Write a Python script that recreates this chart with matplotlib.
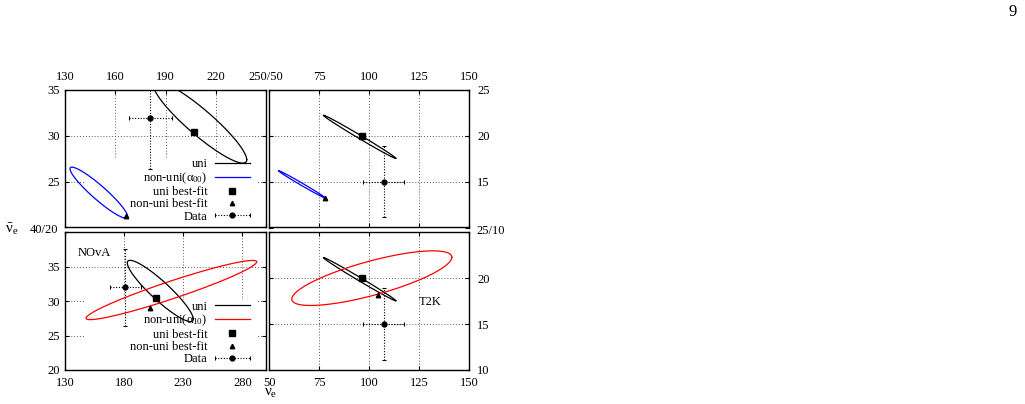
import numpy as np
import matplotlib
matplotlib.use('Agg')
import matplotlib.pyplot as plt
from matplotlib.lines import Line2D
from matplotlib.legend_handler import HandlerBase
from matplotlib.patches import Rectangle

plt.rcParams['font.family'] = ['Liberation Serif', 'DejaVu Serif']
plt.rcParams['mathtext.fontset'] = 'custom'
plt.rcParams['mathtext.rm'] = 'Liberation Serif'
plt.rcParams['mathtext.it'] = 'Liberation Serif'
plt.rcParams['font.size'] = 9

# ---------------- data (x = nu_e events, y = anti-nu_e events) ----------------
nova_data = [181.0, 32.0]
nova_data_err = [13.0, 5.6]
t2k_data = [107.3, 15.0]
t2k_data_err = [10.3, 3.9]

nova_uni_bf = [206.8, 30.4]
nova_a00_bf = [166.6, 21.3]
nova_a10_bf = [201.7, 29.05]
t2k_uni_bf = [96.6, 20.0]
t2k_a00_bf = [78.0, 13.25]
t2k_a10_bf = [104.3, 18.2]

# contours: left end (x, y), right end (x, y), half thickness in y
nova_uni_ell = [(182.7, 35.55), (238.5, 27.4), 1.8]
nova_a00_ell = [(133.0, 26.4), (167.4, 21.2), 1.0]
nova_a10_ell = [(147.8, 27.53), (292.1, 35.7), 1.34]
t2k_uni_ell = [(77.2, 22.24), (113.4, 17.55), 0.22]
t2k_a00_ell = [(54.7, 16.2), (78.0, 13.24), 0.15]
t2k_a10_ell = [(61.4, 17.73), (141.4, 22.28), 1.92]

legend_labels_top = ['uni', r'non-uni($\alpha_{00}$)', 'uni best-fit', 'non-uni best-fit', 'Data']
legend_labels_bot = ['uni', r'non-uni($\alpha_{10}$)', 'uni best-fit', 'non-uni best-fit', 'Data']

tl_xticks = [130, 160, 190, 220, 250]
tl_xlabels = ['130', '160', '190', '220', '']
left_top_yticks = [20, 25, 30, 35]
left_top_ylabels = ['', '25', '30', '35']
bl_xticks = [130, 180, 230, 280]
bl_yticks = [20, 25, 30, 35, 40]
bl_ylabels = ['20', '25', '30', '35', '']
r_xticks = [50, 75, 100, 125, 150]
tr_xlabels = ['', '75', '100', '125', '150']
br_xlabels = ['50', '75', '100', '125', '150']
r_yticks = [10, 15, 20, 25]
tr_ylabels = ['', '15', '20', '25']
br_ylabels = ['10', '15', '20', '']


def ellipse_xy(ell, n=400):
    (x1, y1), (x2, y2), h = ell
    cx, cy = (x1 + x2) / 2, (y1 + y2) / 2
    ux, uy = (x2 - x1) / 2, (y2 - y1) / 2
    t = np.linspace(0, 2 * np.pi, n)
    return cx + ux * np.cos(t), cy + uy * np.cos(t) + h * np.sin(t)


class DataHandler(HandlerBase):
    def create_artists(self, legend, orig_handle, xdescent, ydescent,
                       width, height, fontsize, trans):
        y = height / 2 - ydescent
        x0, x1 = -xdescent, -xdescent + width
        ln = Line2D([x0, x1], [y, y], color='k', lw=0.8, ls=(0, (1, 1.5)))
        caps = Line2D([x0, x1], [y, y], ls='none', marker='|', ms=3,
                      mew=0.8, color='k')
        dot = Line2D([(x0 + x1) / 2], [y], ls='none', marker='o', ms=3.5,
                     color='k')
        for a in (ln, caps, dot):
            a.set_transform(trans)
        return [ln, caps, dot]


W, H = 1025, 404
fig = plt.figure(figsize=(W / 100, H / 100), dpi=100)


def ax_at(l, t, r, b):
    return fig.add_axes([l / W, 1 - b / H, (r - l) / W, (b - t) / H])


ax_tl = ax_at(65, 90, 266, 227.5)
ax_tr = ax_at(269, 90, 469, 227.5)
ax_bl = ax_at(65, 232.3, 266, 370)
ax_br = ax_at(269, 232.3, 469, 370)

grid_kw = dict(color='0.35', linestyle=(0, (1, 2)), linewidth=0.7)

for ax in (ax_tl, ax_tr, ax_bl, ax_br):
    ax.set_axisbelow(True)
    ax.grid(True, **grid_kw)
    ax.tick_params(direction='in', length=3, width=0.8, top=True, bottom=True,
                   left=True, right=True, labelsize=9)
    for s in ax.spines.values():
        s.set_linewidth(1.0)

# limits and ticks
ax_tl.set_xlim(130, 250); ax_tl.set_ylim(20, 35)
ax_tl.set_xticks(tl_xticks, tl_xlabels)
ax_tl.set_yticks(left_top_yticks, left_top_ylabels)
ax_tl.tick_params(labeltop=True, labelbottom=False, labelleft=True, labelright=False)
ax_tl.tick_params(axis='x', pad=5)
ax_tl.tick_params(axis='y', pad=4)

ax_tr.set_xlim(50, 150); ax_tr.set_ylim(10, 25)
ax_tr.set_xticks(r_xticks, tr_xlabels)
ax_tr.set_yticks(r_yticks, tr_ylabels)
ax_tr.tick_params(labeltop=True, labelbottom=False, labelleft=False, labelright=True)
ax_tr.tick_params(axis='x', pad=5)
ax_tr.tick_params(axis='y', pad=6)

ax_bl.set_xlim(130, 300); ax_bl.set_ylim(20, 40)
ax_bl.set_xticks(bl_xticks, [str(v) for v in bl_xticks])
ax_bl.set_yticks(bl_yticks, bl_ylabels)
ax_bl.tick_params(labeltop=False, labelbottom=True, labelleft=True, labelright=False)
ax_bl.tick_params(axis='x', pad=5)
ax_bl.tick_params(axis='y', pad=4)

ax_br.set_xlim(50, 150); ax_br.set_ylim(10, 25)
ax_br.set_xticks(r_xticks, br_xlabels)
ax_br.set_yticks(r_yticks, br_ylabels)
ax_br.tick_params(labeltop=False, labelbottom=True, labelleft=False, labelright=True)
ax_br.tick_params(axis='x', pad=5)
ax_br.tick_params(axis='y', pad=6)

# shared corner labels
fig.text(265.5 / W, 1 - 77 / H, '250/50', ha='center', va='center', fontsize=9)
fig.text(58 / W, 1 - 230 / H, '40/20', ha='right', va='center', fontsize=9)
fig.text(476 / W, 1 - 231 / H, '25/10', ha='left', va='center', fontsize=9)

# axis labels
fig.text(12 / W, 1 - 229 / H, r'$\bar{\nu}_e$', ha='center', va='center', fontsize=11)
fig.text(271 / W, 1 - 393.5 / H, r'$\nu_e$', ha='center', va='center', fontsize=11)
fig.text(1013 / W, 1 - 12 / H, '9', ha='center', va='center', fontsize=12)


def draw_panel(ax, uni_ell, nu_ell, nu_color, uni_bf, nu_bf, data, derr):
    x, y = ellipse_xy(uni_ell)
    l_uni, = ax.plot(x, y, color='k', lw=0.9, zorder=2)
    x, y = ellipse_xy(nu_ell)
    l_nu, = ax.plot(x, y, color=nu_color, lw=0.9, zorder=2)
    p_uni, = ax.plot([uni_bf[0]], [uni_bf[1]], ls='none', marker='s', ms=4.5,
                     color='k', zorder=3)
    p_nu, = ax.plot([nu_bf[0]], [nu_bf[1]], ls='none', marker='^', ms=3.2,
                    color='k', zorder=3)
    eb = ax.errorbar([data[0]], [data[1]], xerr=[derr[0]], yerr=[derr[1]],
                     fmt='o', color='k', ms=3.5, elinewidth=0.8, capsize=1.5,
                     capthick=0.8, zorder=2.5)
    for c in eb[2]:
        c.set_linestyle((0, (1, 1.5)))
    return [l_uni, l_nu, p_uni, p_nu, eb]


h_tl = draw_panel(ax_tl, nova_uni_ell, nova_a00_ell, '#0000ff', nova_uni_bf,
                  nova_a00_bf, nova_data, nova_data_err)
draw_panel(ax_tr, t2k_uni_ell, t2k_a00_ell, '#0000ff', t2k_uni_bf,
           t2k_a00_bf, t2k_data, t2k_data_err)
h_bl = draw_panel(ax_bl, nova_uni_ell, nova_a10_ell, '#ff0000', nova_uni_bf,
                  nova_a10_bf, nova_data, nova_data_err)
draw_panel(ax_br, t2k_uni_ell, t2k_a10_ell, '#ff0000', t2k_uni_bf,
           t2k_a10_bf, t2k_data, t2k_data_err)


def add_legend(ax, handles, labels, box_top):
    ax.add_patch(Rectangle((0.10, 0.0), 0.855, box_top, transform=ax.transAxes,
                           facecolor='white', edgecolor='none', zorder=1))
    leg = ax.legend(handles, labels, loc='lower right',
                    bbox_to_anchor=(0.92, 0.035), frameon=False,
                    markerfirst=False, handlelength=2.8, handletextpad=0.6,
                    labelspacing=0.02, borderpad=0, borderaxespad=0,
                    fontsize=9, handler_map={type(handles[4]): DataHandler()})
    leg.set_zorder(1.5)


add_legend(ax_tl, h_tl, legend_labels_top, 0.498)
add_legend(ax_bl, h_bl, legend_labels_bot, 0.508)

ax_bl.text(0.065, 0.85, 'NOvA', transform=ax_bl.transAxes, ha='left',
           va='center', fontsize=9)
ax_br.text(0.75, 0.497, 'T2K', transform=ax_br.transAxes, ha='left',
           va='center', fontsize=9)

fig.savefig('out.png', dpi=100)
